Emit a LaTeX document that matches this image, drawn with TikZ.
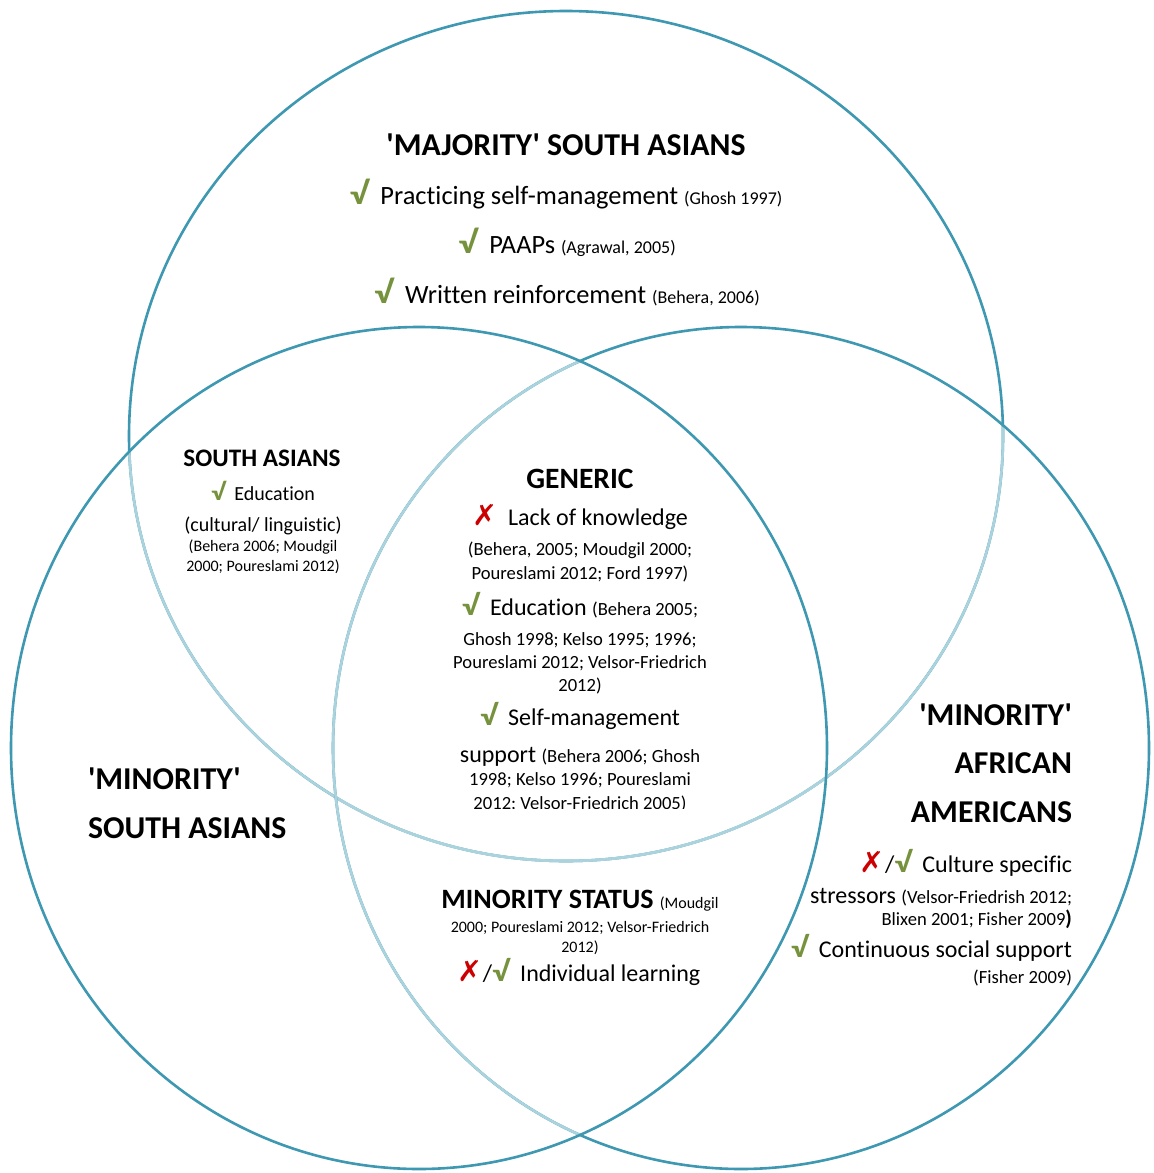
\documentclass[tikz,border=0pt]{standalone}
\usepackage{fontspec}
\setmainfont{Carlito}[Ligatures={TeXOff,NoCommon}]
\newfontfamily\symfont{DejaVu Sans}

\definecolor{ringdark}{RGB}{62,152,177}
\definecolor{ringlight}{RGB}{170,211,222}
\definecolor{okgreen}{RGB}{118,146,60}
\definecolor{nored}{RGB}{204,0,0}

\newcommand\fsz[1]{\fontsize{#1}{#1}\selectfont}
\newcommand\okmark{\textcolor{okgreen}{\scalebox{1.45}[1.2]{\bfseries √}}}
\newcommand\nomark{\textcolor{nored}{\scalebox{1.25}[1.2]{\symfont ✗}}}

\tikzset{
  ring/.style={draw=ringdark, line width=1.3pt},
  ringsoft/.style={draw=ringlight, line width=1.3pt},
  txt/.style={inner sep=0pt, outer sep=0pt, anchor=base},
  txtl/.style={txt, anchor=base west},
  txtr/.style={txt, anchor=base east},
  head/.style={font=\fsz{15.9}\bfseries},
}

\begin{document}
\begin{tikzpicture}[x=0.5pt, y=-0.5pt]
\fill[white] (0,0) rectangle (1153,1173);
\useasboundingbox (0,0) rectangle (1153,1173);

\coordinate (ctop) at (566,436);
\coordinate (cleft) at (419,748);
\coordinate (cright) at (741,748);

% upper set, lightened where the lower sets cover it
\draw[ring] (ctop) ellipse [x radius=218.5pt, y radius=212.5pt];
\begin{scope}
  \clip (cright) ellipse [x radius=204pt, y radius=210.5pt];
  \draw[ringsoft] (ctop) ellipse [x radius=218.5pt, y radius=212.5pt];
\end{scope}
\begin{scope}
  \clip (cleft) ellipse [x radius=204pt, y radius=210.5pt];
  \draw[ringsoft] (ctop) ellipse [x radius=218.5pt, y radius=212.5pt];
\end{scope}
% right set, lightened inside the left set
\draw[ring] (cright) ellipse [x radius=204pt, y radius=210.5pt];
\begin{scope}
  \clip (cleft) ellipse [x radius=204pt, y radius=210.5pt];
  \draw[ringsoft] (cright) ellipse [x radius=204pt, y radius=210.5pt];
\end{scope}
% left set on top
\draw[ring] (cleft) ellipse [x radius=204pt, y radius=210.5pt];

% 'Majority' South Asians
\node[txt, head] (majhead) at (566,155) {'MAJORITY' SOUTH ASIANS};
\node[txt, font=\fsz{13.2}] (maj1) at (566,204) {\okmark\hspace{0.45em}Practicing self-management {\fsz{9}(Ghosh 1997)}};
\node[txt, font=\fsz{13.2}] (maj2) at (567,253) {\okmark\hspace{0.45em}PAAPs {\fsz{9}(Agrawal, 2005)}};
\node[txt, font=\fsz{13.2}] (maj3) at (567,303) {\okmark\hspace{0.45em}Written reinforcement {\fsz{9}(Behera, 2006)}};

% South Asians
\node[txt, font=\fsz{12.6}\bfseries] (sahead) at (262,466) {SOUTH ASIANS};
\node[txt, font=\fsz{10}] (sa1) at (263,500) {\okmark\hspace{0.45em}Education};
\node[txt, font=\fsz{10}] (sa2) at (263,531) {(cultural/ linguistic)};
\node[txt, font=\fsz{8}] (sa3) at (263,551) {(Behera 2006; Moudgil};
\node[txt, font=\fsz{8}] (sa4) at (263,571) {2000; Poureslami 2012)};

% Generic
\node[txt, font=\fsz{14.75}\bfseries] (genhead) at (580,488) {GENERIC};
\node[txt, font=\fsz{12}] (gen1) at (580,525) {\nomark\hspace{0.45em}Lack of knowledge};
\node[txt, font=\fsz{9.3}] (gen2) at (580,555) {(Behera, 2005; Moudgil 2000;};
\node[txt, font=\fsz{9.3}] (gen3) at (580,579) {Poureslami 2012; Ford 1997)};
\node[txt, font=\fsz{12}] (gen4) at (580,615) {\okmark\hspace{0.45em}Education {\fsz{9.3}(Behera 2005;}};
\node[txt, font=\fsz{9.3}] (gen5) at (580,645) {Ghosh 1998; Kelso 1995; 1996;};
\node[txt, font=\fsz{9.3}] (gen6) at (580,668) {Poureslami 2012; Velsor-Friedrich};
\node[txt, font=\fsz{9.3}] (gen7) at (580,691) {2012)};
\node[txt, font=\fsz{12}] (gen8) at (580,725) {\okmark\hspace{0.45em}Self-management};
\node[txt, font=\fsz{12}] (gen9) at (580,762) {support {\fsz{9.3}(Behera 2006; Ghosh}};
\node[txt, font=\fsz{9.3}] (gen10) at (580,785) {1998; Kelso 1996; Poureslami};
\begin{scope}
  \clip (400,790) rectangle (760,808);
  \node[txt, font=\fsz{9.3}] (gen11) at (580,809) {2012; Velsor-Friedrich 2005)};
\end{scope}

% Minority status
\node[txt, font=\fsz{14}] (minst1) at (580,908) {\textbf{MINORITY STATUS} {\fsz{8}(Moudgil}};
\node[txt, font=\fsz{8}] (minst2) at (580,932) {2000; Poureslami 2012; Velsor-Friedrich};
\node[txt, font=\fsz{8}] (minst3) at (580,952) {2012)};
\node[txt, font=\fsz{12}] (minst4) at (579,981) {\nomark/\okmark\hspace{0.45em}Individual learning};

% 'Minority' South Asians
\node[txtl, head] (msa1) at (88,789) {'MINORITY'};
\node[txtl, head] (msa2) at (88,838) {SOUTH ASIANS};

% 'Minority' African Americans
\node[txtr, head] (maa1) at (1072,725) {'MINORITY'};
\node[txtr, head] (maa2) at (1072,773) {AFRICAN};
\node[txtr, head] (maa3) at (1072,822) {AMERICANS};
\node[txtr, font=\fsz{12}] (maa4) at (1072,872) {\nomark/\okmark\hspace{0.45em}Culture specific};
\node[txtr, font=\fsz{12}] (maa5) at (1072,903) {stressors {\fsz{9.3}(Velsor-Friedrish 2012;}};
\node[txtr, font=\fsz{9.3}] (maa6) at (1072,925) {Blixen 2001; Fisher 2009{\fsz{10.5}\bfseries)}};
\node[txtr, font=\fsz{12}] (maa7) at (1072,957) {\okmark\hspace{0.45em}Continuous social support};
\node[txtr, font=\fsz{9.3}] (maa8) at (1072,983) {(Fisher 2009)};
\end{tikzpicture}
\end{document}
